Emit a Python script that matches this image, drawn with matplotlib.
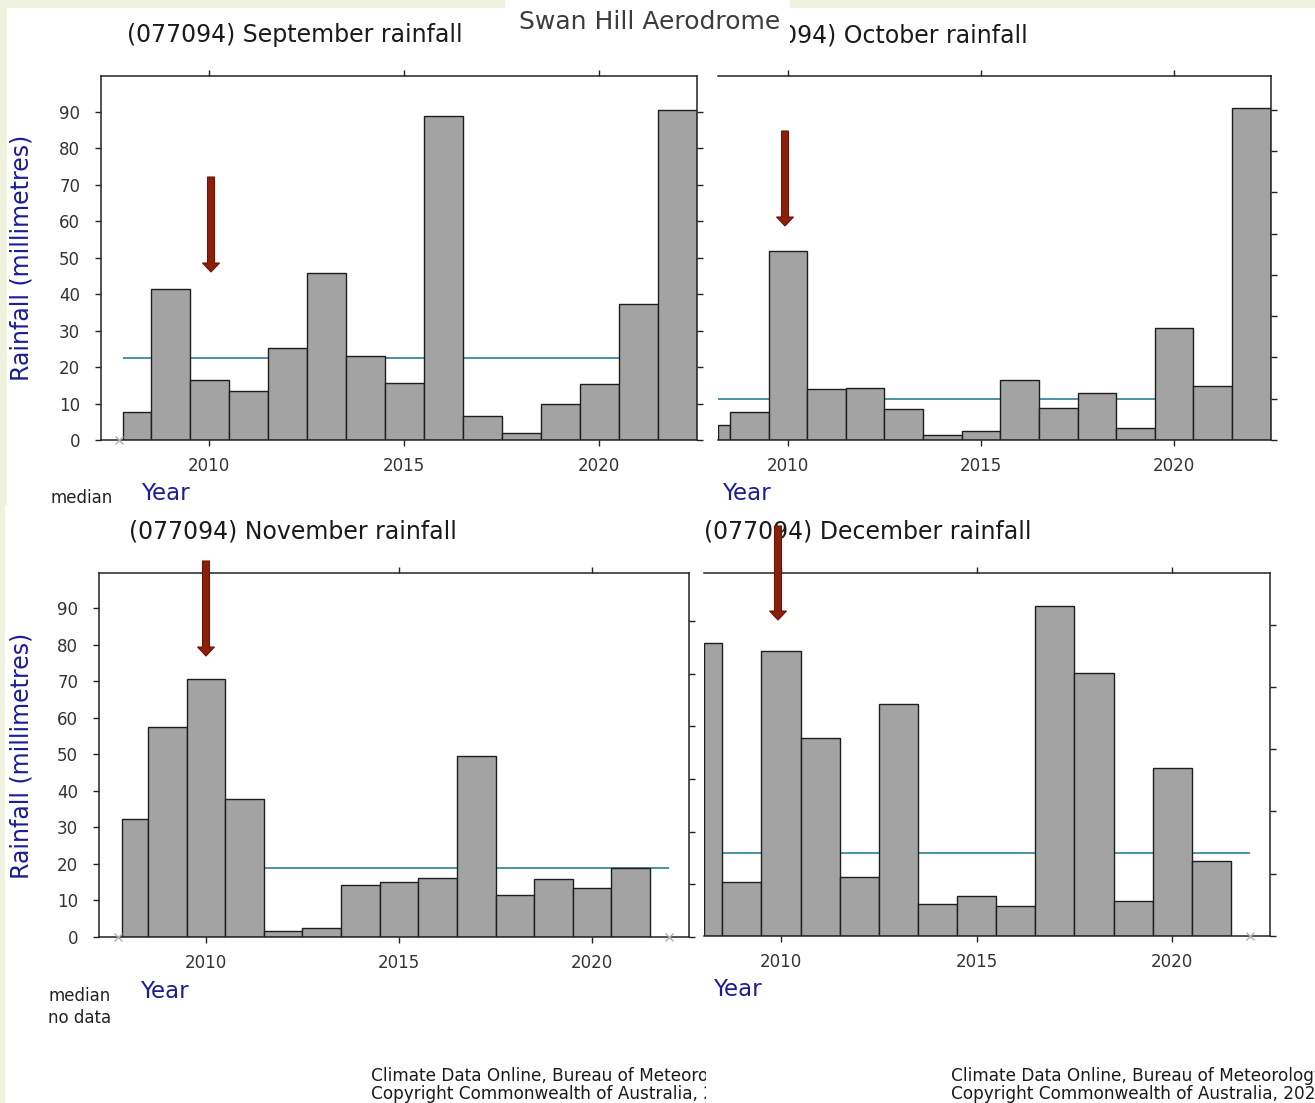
import numpy as np
import matplotlib
matplotlib.use('Agg')
import matplotlib.pyplot as plt
from matplotlib.patches import Rectangle, FancyArrow

# monthly rainfall (mm), Swan Hill Aerodrome 077094
years = np.arange(2008, 2023)
sep_rain = [7.8, 41.5, 16.5, 13.3, 25.3, 45.7, 22.9, 15.7, 88.8, 6.7, 1.8, 9.9, 15.4, 37.4, 90.5]
oct_rain = [3.7, 6.8, 45.9, 12.3, 12.6, 7.4, 1.1, 2.3, 14.5, 7.8, 11.4, 2.8, 27.2, 13.2, 80.4]
nov_rain = [32.4, 57.6, 70.8, 37.9, 1.7, 2.4, 14.2, 15.1, 16.2, 49.6, 11.4, 15.8, 13.4, 18.9, np.nan]
dec_rain = [47.1, 8.6, 45.7, 31.8, 9.4, 37.2, 5.1, 6.5, 4.8, 53.0, 42.3, 5.7, 27.0, 12.1, np.nan]
medians = {'September': 22.6, 'October': 10.0, 'November': 18.9, 'December': 13.3}
no_data_years = {'September': [2007.7], 'October': [], 'November': [2007.72, 2022.0], 'December': [2022.0]}

W, H = 1315, 1103
fig = plt.figure(figsize=(W / 100, H / 100), dpi=100, facecolor='#eef2de')


def fx(x):
    return x / W


def fy(y):
    return 1 - y / H


def box(x0, y0, x1, y1, z):
    fig.add_artist(Rectangle((fx(x0), fy(y1)), fx(x1) - fx(x0), fy(y0) - fy(y1),
                             transform=fig.transFigure, fc='white', ec='none', zorder=z))


box(7, 8, 1315, 505, -2)
box(5, 505, 1315, 1103, -2)
box(505, 0, 790, 60, 5)
box(706, 1060, 945, 1103, 5)

grey = '#a3a3a3'
edge = '#1e1e1e'
med_col = '#2f7f96'
blue = '#1c1c96'


def panel(rect, vals, month, xlim, ylim, yticks, x_start, show_left):
    l, t, r, b = rect
    ax = fig.add_axes([fx(l), fy(b), fx(r) - fx(l), fy(t) - fy(b)])
    vals = np.array(vals)
    ok = ~np.isnan(vals)
    left = np.maximum(years[ok] - 0.5, x_start)
    ax.bar(left, vals[ok], width=years[ok] + 0.5 - left, align='edge',
           color=grey, edgecolor=edge, linewidth=1.0, zorder=2)
    ax.hlines(medians[month], x_start, 2022.0, color=med_col, lw=1.2, zorder=1)
    nd = no_data_years[month]
    if nd:
        ax.plot(nd, [0] * len(nd), 'x', color='#b0b0b0', ms=6, mew=1.0,
                clip_on=False, zorder=3)
    ax.set_xlim(*xlim)
    ax.set_ylim(*ylim)
    ax.set_xticks([2010, 2015, 2020])
    ax.set_yticks(yticks)
    ax.tick_params(direction='out', length=4, width=1, color='#222222',
                   labelsize=12, labelcolor='#333333', top=True, labeltop=False)
    ax.tick_params(axis='x', pad=8)
    ax.tick_params(axis='y', pad=11)
    for s in ax.spines.values():
        s.set_color('#222222')
        s.set_linewidth(1.1)
    if not show_left:
        ax.spines['left'].set_visible(False)
        ax.tick_params(axis='y', left=False, labelleft=False, right=True)
    return ax


ax1 = panel((101, 76, 697, 440), sep_rain, 'September', (2007.23, 2022.51), (0, 99.8),
            range(0, 100, 10), 2007.79, True)
ax1.tick_params(axis='y', right=True)
ax2 = panel((718, 76, 1271, 440), oct_rain, 'October', (2008.19, 2022.51), (0, 88.2),
            range(0, 90, 10), 2008.19, False)
ax3 = panel((99, 573, 689, 937), nov_rain, 'November', (2007.23, 2022.51), (0, 99.7),
            range(0, 100, 10), 2007.83, True)
ax3r = ax3.twinx()
ax3r.set_ylim(0, 69.1)
ax3r.set_yticks(range(0, 70, 10))
ax3r.tick_params(direction='out', length=4, width=1, color='#222222', labelright=False)
for s in ax3r.spines.values():
    s.set_visible(False)
ax4 = panel((704, 573, 1270, 936), dec_rain, 'December', (2008.03, 2022.5), (0, 58.3),
            range(0, 60, 10), 2008.03, False)

# titles
tkw = dict(fontsize=17, color='#1a1a1a', va='center', ha='left')
fig.text(fx(127), fy(35), '(077094) September rainfall', **tkw)
fig.text(fx(728), fy(35), '(077094) October rainfall', **tkw)
fig.text(fx(129), fy(532), '(077094) November rainfall', **tkw)
fig.text(fx(704), fy(531), '(077094) December rainfall', **tkw)
fig.text(fx(650), fy(22), 'Swan Hill Aerodrome', fontsize=18, color='#3c3c3c',
         ha='center', va='center', zorder=6)

# axis labels
for yy in (258, 756):
    fig.text(fx(22), fy(yy), 'Rainfall (millimetres)', rotation=90, fontsize=17,
             color=blue, ha='center', va='center')
for xx, yy in ((141, 494), (722, 493), (140, 991), (713, 989)):
    fig.text(fx(xx), fy(yy), 'Year', fontsize=16.5, color=blue, ha='left', va='center')

lkw = dict(fontsize=12, color='#222222', ha='left', va='center')
fig.text(fx(51), fy(498), 'median', **lkw)
fig.text(fx(49), fy(996), 'median', **lkw)
fig.text(fx(48), fy(1018), 'no data', **lkw)

# footers (left copy is cut off by the panel next to it)
fkw = dict(fontsize=12.2, color='#1a1a1a', ha='left', va='center')
for yy, s in ((1076, 'Climate Data Online, Bureau of Meteorology'),
              (1094, 'Copyright Commonwealth of Australia, 2023')):
    fig.text(fx(371), fy(yy), s, zorder=3, **fkw)
    fig.text(fx(951), fy(yy), s, zorder=6, **fkw)

# red arrows pointing at 2010
for x, y0, y1 in ((211, 177, 272), (785, 131, 226), (206, 561, 656), (778, 526, 620)):
    fig.add_artist(FancyArrow(fx(x), fy(y0), 0, fy(y1) - fy(y0), width=7 / W,
                              head_width=17 / W, head_length=9 / H,
                              length_includes_head=True, transform=fig.transFigure,
                              fc='#8a1f0c', ec='#6b1507', lw=0.8, zorder=7))

fig.savefig('out.png', dpi=100, facecolor=fig.get_facecolor())
